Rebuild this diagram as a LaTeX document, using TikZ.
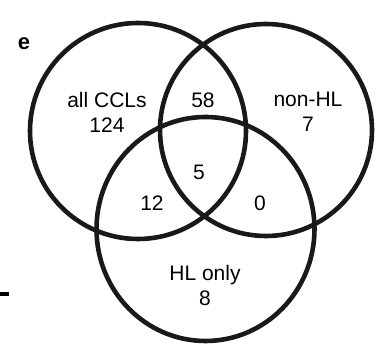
\documentclass[tikz,border=0pt]{standalone}
\usepackage{fontspec}
\setmainfont{Liberation Sans}
\begin{document}
\begin{tikzpicture}[x=1pt,y=-1pt,
  ring/.style={draw=black!90,line width=4.6pt},
  lbl/.style={font=\fontsize{21}{25}\selectfont,align=center,inner sep=0pt}]
\useasboundingbox (0,0) rectangle (381,347);
\draw[ring] (138,131) circle[radius=108];
\draw[ring] (266,130) circle[radius=106];
\draw[ring] (205.5,229) ellipse[x radius=109,y radius=112];
\node[lbl] (a) at (107,112) {all CCLs\\124};
\node[lbl] (ab) at (203,100) {58};
\node[lbl] (b) at (308,112) {non-HL\\7};
\node[lbl] (abc) at (199,172) {5};
\node[lbl] (ac) at (152,203) {12};
\node[lbl] (bc) at (260,203) {0};
\node[lbl] (c) at (205,285) {HL only\\8};
\node[font=\fontsize{22}{26}\selectfont\bfseries,inner sep=0pt] (e) at (24,44) {e};
\fill[black] (0,292) rectangle (9,296.5);
\end{tikzpicture}
\end{document}
